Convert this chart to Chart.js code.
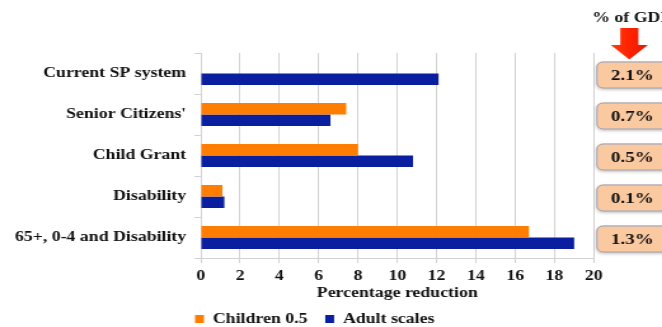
<!DOCTYPE html>
<html>
<head>
<meta charset="utf-8">
<script src="https://cdn.jsdelivr.net/npm/chart.js@4"></script>
<style>
  html, body { margin: 0; padding: 0; background: #fff; overflow: hidden; }
  /* the slide art is horizontally stretched, so the canvas is drawn narrow and widened */
  #wrap { width: 521px; height: 327px; transform: scaleX(1.2707); transform-origin: 0 0; }
  #c { width: 521px; height: 327px; }
</style>
</head>
<body>
<div id="wrap"><canvas id="c" width="521" height="327"></canvas></div>
<script>
// Poverty reduction by grant scenario
const categories = ['Current SP system', "Senior Citizens'", 'Child Grant', 'Disability', '65+, 0-4 and Disability'];
const childrenScale = [null, 7.4, 8.0, 1.1, 16.7];   // Children 0.5
const adultScale = [12.1, 6.6, 10.8, 1.2, 19.0];     // Adult scales
const gdpShare = [2.1, 0.7, 0.5, 0.1, 1.3];          // cost, % of GDP
const xMin = 0, xMax = 20, xStep = 2;

const SERIF = "'Liberation Serif', 'Times New Roman', serif";
const INK = '#111111';
const GRID = '#d2d2d2';

// cost column with the red arrow on the right of the plot
const gdpPanel = {
  id: 'gdpPanel',
  afterDraw(chart) {
    const { ctx, chartArea } = chart;
    const yScale = chart.scales.y;
    const boxLeft = chartArea.right + 2;
    const boxW = 62, boxH = 27;
    const cx = 497.6;

    ctx.save();
    // heading
    ctx.fillStyle = INK;
    ctx.font = 'bold 14px ' + SERIF;
    ctx.textAlign = 'left';
    ctx.textBaseline = 'alphabetic';
    ctx.fillText('% of GDP', 466, 22);

    // arrow
    const ax = 495.3;
    const g = ctx.createLinearGradient(ax - 15, 0, ax + 15, 0);
    g.addColorStop(0, '#ff3a10');
    g.addColorStop(0.5, '#ff2200');
    g.addColorStop(1, '#e41a00');
    ctx.fillStyle = g;
    ctx.beginPath();
    ctx.moveTo(ax - 7.1, 28);
    ctx.lineTo(ax + 7.1, 28);
    ctx.lineTo(ax + 7.1, 45);
    ctx.lineTo(ax + 14.6, 45);
    ctx.lineTo(ax, 59.5);
    ctx.lineTo(ax - 14.6, 45);
    ctx.lineTo(ax - 7.1, 45);
    ctx.closePath();
    ctx.fill();

    // value boxes
    gdpShare.forEach((v, i) => {
      const yc = yScale.getPixelForValue(i) + 1.5;
      const top = yc - boxH / 2;
      ctx.save();
      ctx.shadowColor = 'rgba(0,0,0,0.22)';
      ctx.shadowBlur = 3;
      ctx.shadowOffsetY = 1.5;
      ctx.fillStyle = '#fbc9a0';
      ctx.beginPath();
      ctx.roundRect(boxLeft, top, boxW, boxH, 5);
      ctx.fill();
      ctx.restore();
      ctx.strokeStyle = '#97a3bd';
      ctx.lineWidth = 1;
      ctx.beginPath();
      ctx.roundRect(boxLeft + 0.5, top + 0.5, boxW, boxH - 1, 5);
      ctx.stroke();

      ctx.fillStyle = INK;
      ctx.font = 'bold 15px ' + SERIF;
      ctx.textAlign = 'center';
      ctx.textBaseline = 'middle';
      ctx.fillText(v.toFixed(1) + '%', cx, yc + 1);
    });
    ctx.restore();
  }
};

// place the legend row under the axis title
const legendPlace = {
  id: 'legendPlace',
  afterLayout(chart) {
    const lg = chart.legend;
    if (!lg) return;
    const dx = 139.5, dy = 9;
    lg.left += dx; lg.right += dx;
    lg.top += dy; lg.bottom += dy;
  }
};

new Chart(document.getElementById('c'), {
  type: 'bar',
  data: {
    labels: categories,
    datasets: [
      {
        label: 'Children 0.5',
        data: childrenScale,
        backgroundColor: '#ff7d00',
        borderWidth: 0
      },
      {
        label: 'Adult scales',
        data: adultScale,
        backgroundColor: '#0a1f9f',
        borderWidth: 0
      }
    ]
  },
  options: {
    indexAxis: 'y',
    responsive: false,
    animation: false,
    devicePixelRatio: 1,
    categoryPercentage: 0.56,
    barPercentage: 1.0,
    layout: { padding: { top: 53, right: 53.7, left: 0, bottom: 0 } },
    scales: {
      x: {
        min: xMin,
        max: xMax,
        ticks: {
          stepSize: xStep,
          color: INK,
          font: { family: SERIF, size: 14, weight: 'bold' },
          padding: 5
        },
        grid: { color: GRID, lineWidth: 1, tickLength: 5, drawTicks: true },
        border: { color: GRID, width: 1 },
        title: {
          display: true,
          text: 'Percentage reduction',
          color: INK,
          font: { family: SERIF, size: 14, weight: 'bold' },
          padding: { top: 0, bottom: -12.4 }
        },
        afterFit(scale) { scale.height = 31; }
      },
      y: {
        ticks: {
          color: INK,
          font: { family: SERIF, size: 14, weight: 'bold' },
          padding: 6.5
        },
        grid: { drawOnChartArea: false, color: GRID, tickLength: 5 },
        border: { color: GRID, width: 1 },
        afterFit(scale) { scale.width = 158; }
      }
    },
    plugins: {
      legend: {
        position: 'bottom',
        align: 'start',
        labels: {
          boxWidth: 7,
          boxHeight: 8,
          padding: 14,
          color: INK,
          font: { family: SERIF, size: 14, weight: 'bold' }
        }
      },
      tooltip: { enabled: false }
    }
  },
  plugins: [gdpPanel, legendPlace]
});
</script>
</body>
</html>
